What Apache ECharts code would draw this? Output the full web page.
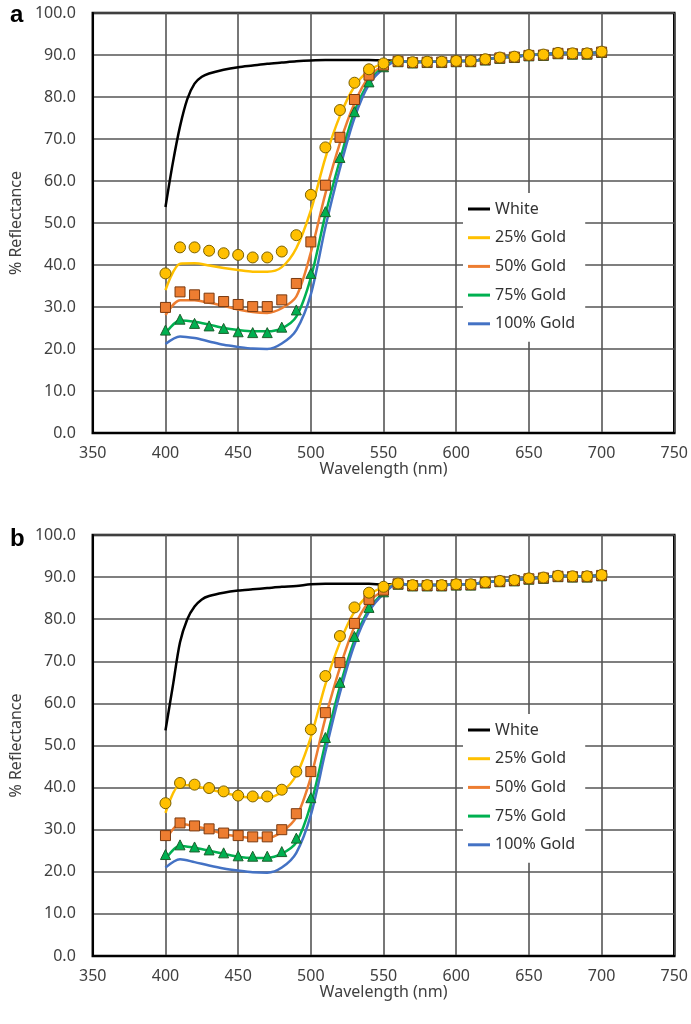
<!DOCTYPE html>
<html>
<head>
<meta charset="utf-8">
<script src="https://cdn.jsdelivr.net/npm/echarts@6/dist/echarts.min.js"></script>
<style>
html, body { margin: 0; padding: 0; background: #fff; }
#chart { width: 691px; height: 1024px; }
</style>
</head>
<body>
<div id="chart"></div>
<script>
// wavelengths (nm) of the gold samples, and the finer grid used for the white curve
var nm = [400, 410, 420, 430, 440, 450, 460, 470, 480, 490, 500, 510, 520, 530, 540, 550,
  560, 570, 580, 590, 600, 610, 620, 630, 640, 650, 660, 670, 680, 690, 700];
var whiteNm = [400, 405, 410, 415, 420, 425, 430, 440, 450, 460, 470, 480, 490, 500, 510, 520, 530, 540, 550,
  560, 570, 580, 590, 600, 610, 620, 630, 640, 650, 660, 670, 680, 690, 700];
var xTicks = [350, 400, 450, 500, 550, 600, 650, 700, 750];

// panel a
var whiteA = [53.8, 64.2, 73.0, 79.5, 83.2, 84.8, 85.6, 86.5, 87.1, 87.5, 87.9, 88.2, 88.5, 88.7, 88.8, 88.8, 88.8, 88.8, 88.7,
  88.6, 88.4, 88.4, 88.4, 88.6, 88.6, 89.0, 89.4, 89.6, 90.0, 90.1, 90.5, 90.4, 90.4, 90.8];
var gold25LineA = [34.0, 40.3, 40.4, 39.9, 39.3, 38.8, 38.4, 38.4, 39.5, 44.0, 53.0, 65.5, 75.5, 82.5, 86.3, 88.0,
  88.6, 88.3, 88.4, 88.4, 88.6, 88.6, 89.0, 89.4, 89.6, 90.0, 90.1, 90.5, 90.4, 90.4, 90.8];
var gold50LineA = [28.1, 31.6, 31.6, 31.0, 30.3, 29.4, 28.8, 28.6, 29.7, 32.5, 43.0, 57.0, 69.0, 78.5, 84.8, 87.5,
  88.6, 88.3, 88.4, 88.4, 88.6, 88.6, 89.0, 89.4, 89.6, 90.0, 90.1, 90.5, 90.4, 90.4, 90.8];
var gold75LineA = [23.7, 26.8, 26.5, 25.8, 25.0, 24.5, 24.2, 24.2, 24.9, 27.7, 37.0, 52.0, 65.0, 76.5, 83.5, 87.2,
  88.6, 88.3, 88.4, 88.4, 88.6, 88.6, 89.0, 89.4, 89.6, 90.0, 90.1, 90.5, 90.4, 90.4, 90.8];
var gold100LineA = [21.2, 23.0, 22.6, 21.8, 21.0, 20.5, 20.1, 20.0, 21.3, 24.5, 33.0, 49.0, 63.0, 75.0, 83.0, 86.8,
  88.6, 88.3, 88.4, 88.4, 88.6, 88.6, 89.0, 89.4, 89.6, 90.0, 90.1, 90.5, 90.4, 90.4, 90.8];
var gold25PtsA = [38.0, 44.2, 44.2, 43.4, 42.8, 42.4, 41.8, 41.8, 43.2, 47.1, 56.7, 68.0, 76.9, 83.4, 86.6, 88.0,
  88.6, 88.3, 88.4, 88.4, 88.6, 88.6, 89.0, 89.4, 89.6, 90.0, 90.1, 90.5, 90.4, 90.4, 90.8];
var gold50PtsA = [29.9, 33.6, 32.9, 32.1, 31.3, 30.6, 30.1, 30.1, 31.7, 35.6, 45.5, 59.0, 70.4, 79.4, 85.2, 87.6,
  88.5, 88.2, 88.3, 88.3, 88.5, 88.5, 88.9, 89.3, 89.5, 89.9, 90.0, 90.4, 90.3, 90.3, 90.7];
var gold75PtsA = [24.5, 27.1, 26.1, 25.5, 24.9, 24.1, 23.9, 23.9, 25.2, 29.3, 38.0, 52.7, 65.6, 76.5, 83.6, 87.2,
  88.4, 88.1, 88.2, 88.2, 88.4, 88.4, 88.8, 89.2, 89.4, 89.8, 89.9, 90.3, 90.2, 90.2, 90.6];

// panel b
var whiteB = [53.6, 64.0, 74.5, 80.0, 83.0, 84.7, 85.5, 86.3, 86.8, 87.1, 87.4, 87.7, 87.9, 88.3, 88.4, 88.4, 88.4, 88.4, 88.2,
  88.4, 88.1, 88.1, 88.1, 88.3, 88.3, 88.8, 89.1, 89.3, 89.7, 89.9, 90.3, 90.2, 90.2, 90.5];
var gold25LineB = [34.0, 40.6, 40.4, 39.6, 38.8, 38.0, 37.6, 37.6, 39.0, 43.0, 52.0, 64.5, 74.5, 81.8, 85.8, 87.6,
  88.5, 88.1, 88.1, 88.1, 88.3, 88.3, 88.8, 89.1, 89.3, 89.7, 89.9, 90.3, 90.2, 90.2, 90.5];
var gold50LineB = [27.5, 31.4, 30.8, 30.0, 29.0, 28.4, 28.0, 28.0, 29.5, 33.0, 42.5, 56.5, 68.5, 78.2, 84.2, 86.8,
  88.5, 88.1, 88.1, 88.1, 88.3, 88.3, 88.8, 89.1, 89.3, 89.7, 89.9, 90.3, 90.2, 90.2, 90.5];
var gold75LineB = [23.0, 26.2, 25.7, 25.0, 24.3, 23.6, 23.3, 23.3, 24.3, 27.0, 36.0, 50.5, 64.0, 75.0, 82.3, 86.3,
  88.5, 88.1, 88.1, 88.1, 88.3, 88.3, 88.8, 89.1, 89.3, 89.7, 89.9, 90.3, 90.2, 90.2, 90.5];
var gold100LineB = [21.0, 23.0, 22.3, 21.5, 20.8, 20.3, 19.9, 19.8, 21.0, 24.5, 33.5, 48.5, 62.5, 74.0, 81.8, 86.0,
  88.5, 88.1, 88.1, 88.1, 88.3, 88.3, 88.8, 89.1, 89.3, 89.7, 89.9, 90.3, 90.2, 90.2, 90.5];
var gold25PtsB = [36.3, 41.1, 40.7, 39.9, 39.1, 38.1, 37.9, 37.9, 39.5, 43.8, 53.8, 66.5, 76.0, 82.8, 86.3, 87.7,
  88.5, 88.1, 88.1, 88.1, 88.3, 88.3, 88.8, 89.1, 89.3, 89.7, 89.9, 90.3, 90.2, 90.2, 90.5];
var gold50PtsB = [28.6, 31.6, 30.9, 30.2, 29.2, 28.6, 28.3, 28.3, 30.0, 33.8, 43.8, 57.8, 69.7, 79.0, 84.7, 86.9,
  88.4, 88.0, 88.0, 88.0, 88.2, 88.2, 88.7, 89.0, 89.2, 89.6, 89.8, 90.2, 90.1, 90.1, 90.4];
var gold75PtsB = [24.1, 26.4, 25.9, 25.2, 24.5, 23.8, 23.7, 23.7, 24.8, 28.0, 37.6, 51.9, 65.0, 75.9, 82.8, 86.5,
  88.3, 87.9, 87.9, 87.9, 88.1, 88.1, 88.6, 88.9, 89.1, 89.5, 89.7, 90.1, 90.0, 90.0, 90.3];

var names = ['White', '25% Gold', '50% Gold', '75% Gold', '100% Gold'];
var colors = ['#000000', '#FFC000', '#ED7D31', '#00B050', '#4472C4'];
var font = 'Noto Sans';

function pairs(xs, ys) {
  return xs.map(function (x, i) { return [x, ys[i]]; });
}

function lineSeries(i, xs, ys, idx) {
  return {
    name: names[i], type: 'line', xAxisIndex: idx, yAxisIndex: idx,
    data: pairs(xs, ys), symbol: 'none', smooth: 0.3,
    lineStyle: { color: colors[i], width: 2.5 }, itemStyle: { color: colors[i] },
    z: 2, animation: false
  };
}

function markSeries(name, ys, idx, symbol, size, fill, border) {
  return {
    name: name, type: 'scatter', xAxisIndex: idx, yAxisIndex: idx,
    data: pairs(nm, ys), symbol: symbol, symbolSize: size,
    itemStyle: { color: fill, borderColor: border, borderWidth: 1, opacity: 1 },
    z: 3, animation: false
  };
}

function xAxis(idx) {
  return {
    type: 'value', gridIndex: idx, min: 350, max: 750, interval: 50,
    name: 'Wavelength (nm)', nameLocation: 'middle', nameGap: 28,
    nameTextStyle: { fontFamily: font, fontSize: 16, color: '#404040' },
    axisLine: { show: true, lineStyle: { color: '#000', width: 2 } },
    axisTick: { show: false },
    axisLabel: { margin: 12, fontFamily: font, fontSize: 16, color: '#404040',
      customValues: xTicks },
    splitLine: { show: true, lineStyle: { color: '#555', width: 1.6 } }
  };
}

function yAxis(idx) {
  return {
    type: 'value', gridIndex: idx, min: 0, max: 100, interval: 10,
    name: '% Reflectance', nameLocation: 'middle', nameGap: 64,
    nameTextStyle: { fontFamily: font, fontSize: 16, color: '#404040' },
    axisLine: { show: true, lineStyle: { color: '#000', width: 2 } },
    axisTick: { show: false },
    axisLabel: { margin: 17, fontFamily: font, fontSize: 16, color: '#404040',
      formatter: function (v) { return v.toFixed(1); } },
    splitLine: { show: true, lineStyle: { color: '#555', width: 1.6 } }
  };
}

function legend(top) {
  return {
    data: names.map(function (n) { return { name: n, icon: 'rect' }; }),
    orient: 'vertical', left: 463, top: top,
    backgroundColor: '#fff', padding: [8, 10, 10, 5],
    itemWidth: 22, itemHeight: 3, itemGap: 12.7,
    textStyle: { fontFamily: font, fontSize: 16, color: '#333' }
  };
}

var series = [];
[[whiteA, gold25LineA, gold50LineA, gold75LineA, gold100LineA, gold75PtsA, gold50PtsA, gold25PtsA],
 [whiteB, gold25LineB, gold50LineB, gold75LineB, gold100LineB, gold75PtsB, gold50PtsB, gold25PtsB]
].forEach(function (p, idx) {
  series.push(lineSeries(0, whiteNm, p[0], idx));
  for (var i = 1; i < 5; i++) series.push(lineSeries(i, nm, p[i], idx));
  series.push(markSeries('75% Gold pts', p[5], idx, 'triangle', 10, '#00B050', '#1d5e2c'));
  series.push(markSeries('50% Gold pts', p[6], idx, 'rect', 10, '#ED7D31', '#7a3a10'));
  series.push(markSeries('25% Gold pts', p[7], idx, 'circle', 11, '#FFC000', '#7a6000'));
});

var myChart = echarts.init(document.getElementById('chart'));
var option = {
  backgroundColor: '#fff',
  animation: false,
  title: [
    { text: 'a', left: 5, top: -2, textStyle: { fontFamily: 'Liberation Sans', fontSize: 24, fontWeight: 'bold', color: '#000' } },
    { text: 'b', left: 5, top: 522, textStyle: { fontFamily: 'Liberation Sans', fontSize: 24, fontWeight: 'bold', color: '#000' } }
  ],
  grid: [
    { left: 91, top: 13, width: 584, height: 420, show: true, borderColor: '#000', borderWidth: 2.5, backgroundColor: '#fff' },
    { left: 91, top: 535, width: 584, height: 421, show: true, borderColor: '#000', borderWidth: 2.5, backgroundColor: '#fff' }
  ],
  legend: [legend(193), legend(714)],
  xAxis: [xAxis(0), xAxis(1)],
  yAxis: [yAxis(0), yAxis(1)],
  series: series
};
myChart.setOption(option);
window.addEventListener('resize', function () { myChart.resize(); });
</script>
</body>
</html>
